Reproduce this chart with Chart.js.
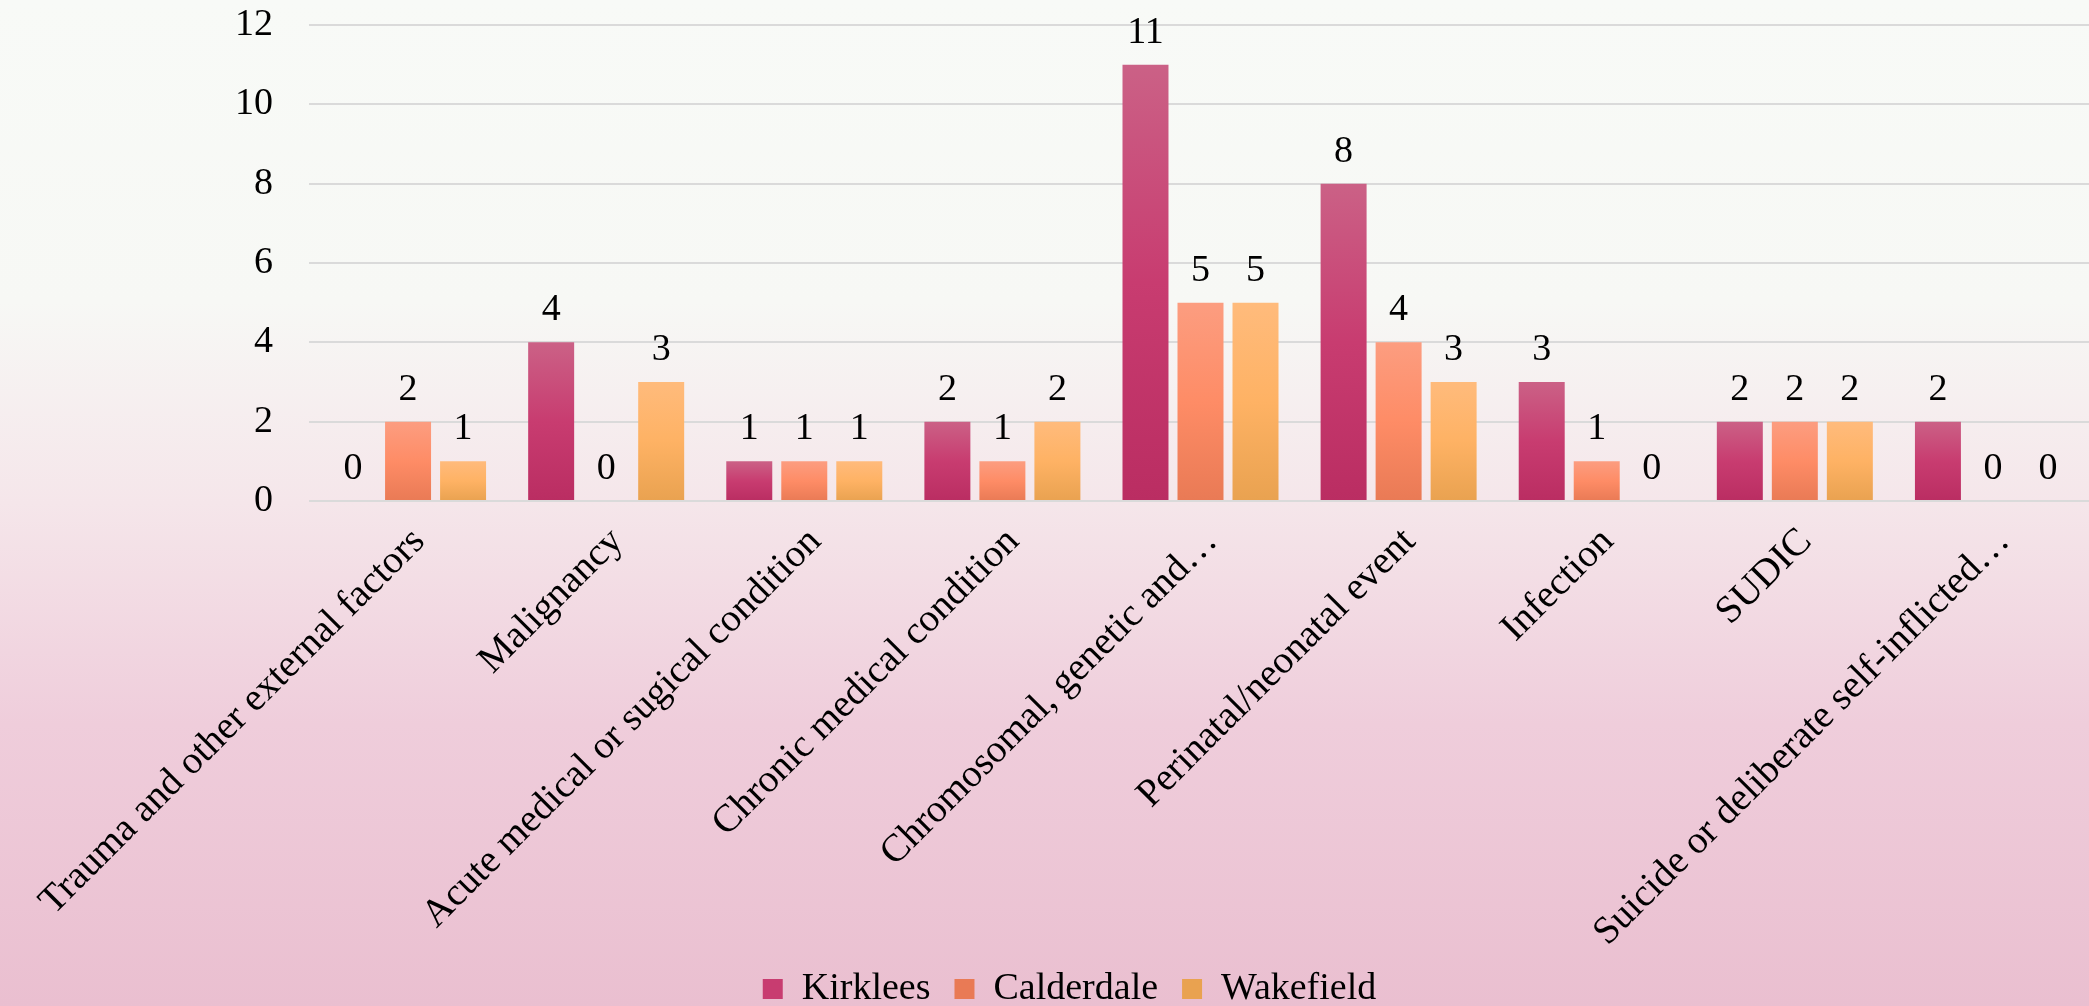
<!DOCTYPE html>
<html>
<head>
<meta charset="utf-8">
<script src="https://cdn.jsdelivr.net/npm/chart.js@4.4.0/dist/chart.umd.min.js"></script>
<style>
  html, body { margin: 0; padding: 0; width: 2089px; height: 1006px; overflow: hidden; }
  body { background: linear-gradient(to bottom, #f8faf7 0%, #f7f8f5 30%, #f5e6ea 50%, #efcddb 72%, #eabfd0 100%); }
  #wrap { position: absolute; left: 0; top: 0; }
</style>
</head>
<body>
<div id="wrap"><canvas id="grafico" width="2139" height="1018"></canvas></div>
<script>
const categorias = ['Trauma and other external factors', 'Malignancy', 'Acute medical or sugical condition',
  'Chronic medical condition', 'Chromosomal, genetic and…', 'Perinatal/neonatal event',
  'Infection', 'SUDIC', 'Suicide or deliberate self-inflicted…'];
const kirklees   = [0, 4, 1, 2, 11, 8, 3, 2, 2];
const calderdale = [2, 0, 1, 1, 5, 4, 1, 2, 0];
const wakefield  = [1, 3, 1, 2, 5, 3, 0, 2, 0];
const yMax = 12;
const yPaso = 2;

const fuente = 'Liberation Serif';

// degradado por barra: claro arriba, oscuro abajo
function degradado(stops) {
    return (ctx) => {
        const chart = ctx.chart;
        if (!chart.chartArea || ctx.type !== 'data' || !ctx.parsed) return stops[1];
        const y = chart.scales.y;
        const top = y.getPixelForValue(ctx.parsed.y);
        const base = y.getPixelForValue(0);
        if (base - top < 1) return stops[1];
        const g = chart.ctx.createLinearGradient(0, top, 0, base);
        g.addColorStop(0, stops[0]);
        g.addColorStop(0.5, stops[1]);
        g.addColorStop(1, stops[2]);
        return g;
    };
}

const etiquetasValor = {
    id: 'etiquetasValor',
    afterDatasetsDraw(chart) {
        const c = chart.ctx;
        c.save();
        c.font = `38px "${fuente}"`;
        c.fillStyle = '#000';
        c.textAlign = 'center';
        c.textBaseline = 'middle';
        chart.data.datasets.forEach((ds, i) => {
            chart.getDatasetMeta(i).data.forEach((bar, j) => {
                c.fillText(String(ds.data[j]), bar.x, bar.y - 32);
            });
        });
        c.restore();
    }
};

new Chart(document.getElementById('grafico'), {
    type: 'bar',
    data: {
        labels: categorias,
        datasets: [
            { label: 'Kirklees', data: kirklees, backgroundColor: degradado(['#cb6186', '#c83c70', '#ba2d62']) },
            { label: 'Calderdale', data: calderdale, backgroundColor: degradado(['#fc9d80', '#fe8c66', '#e97a55']) },
            { label: 'Wakefield', data: wakefield, backgroundColor: degradado(['#ffbb7c', '#feb264', '#e9a250']) }
        ]
    },
    options: {
        responsive: false,
        animation: false,
        categoryPercentage: 0.833,
        barPercentage: 0.836,
        layout: { padding: { left: 47, right: 47, top: 25, bottom: 0 } },
        scales: {
            x: {
                grid: { display: false },
                border: { display: false },
                ticks: {
                    autoSkip: false, maxRotation: 45, minRotation: 45,
                    color: '#000', padding: 10, labelOffset: 11,
                    font: { family: fuente, size: 39 }
                },
                afterFit: (s) => { s.height = 445; s.paddingLeft = 0; s.paddingRight = 0; }
            },
            y: {
                min: 0, max: yMax,
                border: { display: false },
                grid: { color: '#dadada', lineWidth: 2, drawTicks: false },
                ticks: {
                    stepSize: yPaso, color: '#000', padding: 36,
                    font: { family: fuente, size: 38 }
                },
                afterFit: (s) => { s.width = 262; s.paddingTop = 0; s.paddingBottom = 0; }
            }
        },
        plugins: {
            legend: {
                position: 'bottom',
                labels: {
                    boxWidth: 20, boxHeight: 20, padding: 24,
                    color: '#000',
                    font: { family: fuente, size: 38 }
                }
            },
            tooltip: { enabled: false }
        }
    },
    plugins: [etiquetasValor]
});
</script>
</body>
</html>
